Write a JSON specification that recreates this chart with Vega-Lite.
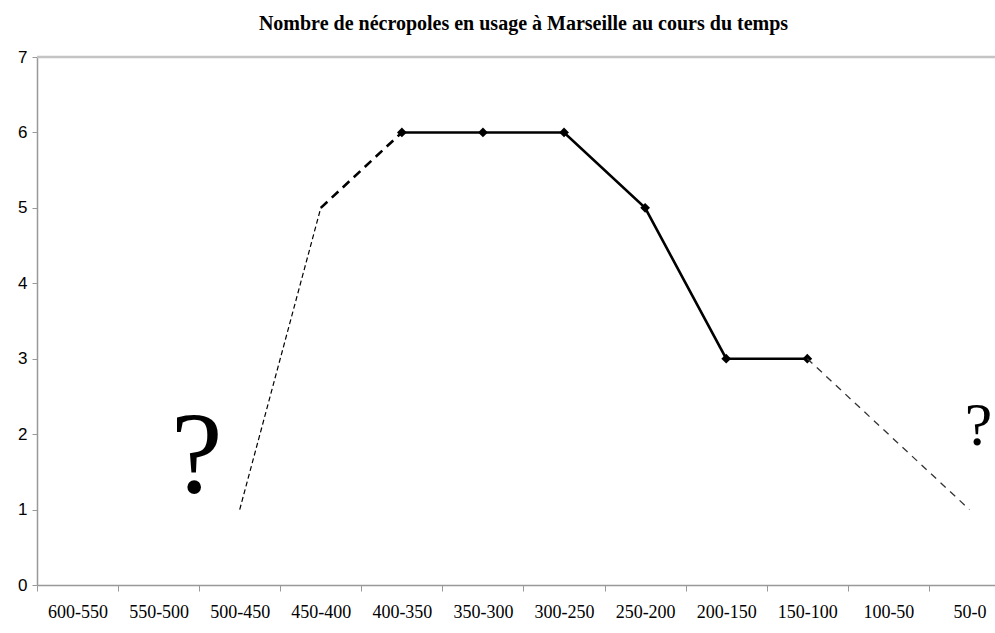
{
  "$schema": "https://vega.github.io/schema/vega-lite/v6.json",
  "width": 973,
  "height": 528,
  "autosize": {"type": "none"},
  "padding": {"left": 37, "top": 57, "right": 0, "bottom": 48},
  "background": "white",
  "config": {"view": {"stroke": null}},
  "title": {
    "text": "Nombre de nécropoles en usage à Marseille au cours du temps",
    "font": "Liberation Serif",
    "fontSize": 20,
    "fontWeight": "bold",
    "color": "#000000",
    "anchor": "middle",
    "offset": 14
  },
  "datasets": {
    "series": [
      {"period": "500-450", "n": 1, "seg": "a"},
      {"period": "450-400", "n": 5, "seg": "a"},
      {"period": "450-400", "n": 5, "seg": "b"},
      {"period": "400-350", "n": 6, "seg": "b"},
      {"period": "400-350", "n": 6, "seg": "c"},
      {"period": "350-300", "n": 6, "seg": "c"},
      {"period": "300-250", "n": 6, "seg": "c"},
      {"period": "250-200", "n": 5, "seg": "c"},
      {"period": "200-150", "n": 3, "seg": "c"},
      {"period": "150-100", "n": 3, "seg": "c"},
      {"period": "150-100", "n": 3, "seg": "d"},
      {"period": "50-0", "n": 1, "seg": "d"}
    ],
    "notes": [
      {"period": "500-450", "n": 1.23, "label": "?", "kind": "big"},
      {"period": "50-0", "n": 1.86, "label": "?", "kind": "small"}
    ]
  },
  "encoding": {
    "x": {
      "field": "period",
      "type": "ordinal",
      "sort": ["600-550", "550-500", "500-450", "450-400", "400-350", "350-300", "300-250", "250-200", "200-150", "150-100", "100-50", "50-0"],
      "scale": {
        "type": "band",
        "domain": ["600-550", "550-500", "500-450", "450-400", "400-350", "350-300", "300-250", "250-200", "200-150", "150-100", "100-50", "50-0"],
        "paddingInner": 0,
        "paddingOuter": 0
      },
      "axis": {
        "title": null,
        "labelAngle": 0,
        "labelFont": "Liberation Serif",
        "labelFontSize": 18,
        "labelColor": "#000000",
        "labelPadding": 12,
        "tickBand": "extent",
        "tickSize": 6,
        "tickColor": "#999999",
        "domainColor": "#999999",
        "domainWidth": 1.5,
        "grid": false
      }
    }
  },
  "layer": [
    {
      "data": {"values": [{"top": 7}]},
      "mark": {"type": "rule", "color": "#c4c4c4", "strokeWidth": 2.5},
      "encoding": {
        "x": null,
        "y": {"field": "top", "type": "quantitative"}
      }
    },
    {
      "data": {"name": "series"},
      "transform": [{"filter": "datum.seg === 'a'"}],
      "mark": {"type": "line", "color": "#000000", "strokeWidth": 1.2, "strokeDash": [5, 3]},
      "encoding": {
        "y": {
          "field": "n",
          "type": "quantitative",
          "scale": {"domain": [0, 7], "nice": false},
          "axis": {
            "title": null,
            "values": [0, 1, 2, 3, 4, 5, 6, 7],
            "format": "d",
            "grid": false,
            "labelFont": "Liberation Sans",
            "labelFontSize": 17,
            "labelColor": "#000000",
            "labelPadding": 5,
            "tickSize": 5,
            "tickColor": "#999999",
            "domainColor": "#999999",
            "domainWidth": 1.5
          }
        }
      }
    },
    {
      "data": {"name": "series"},
      "transform": [{"filter": "datum.seg === 'b'"}],
      "mark": {"type": "line", "color": "#000000", "strokeWidth": 2.6, "strokeDash": [9, 6]},
      "encoding": {"y": {"field": "n", "type": "quantitative"}}
    },
    {
      "data": {"name": "series"},
      "transform": [{"filter": "datum.seg === 'c'"}],
      "mark": {"type": "line", "color": "#000000", "strokeWidth": 2.6, "point": {"shape": "diamond", "size": 95, "filled": true, "color": "#000000"}},
      "encoding": {"y": {"field": "n", "type": "quantitative"}}
    },
    {
      "data": {"name": "series"},
      "transform": [{"filter": "datum.seg === 'd'"}],
      "mark": {"type": "line", "color": "#333333", "strokeWidth": 1.3, "strokeDash": [7, 6]},
      "encoding": {"y": {"field": "n", "type": "quantitative"}}
    },
    {
      "data": {"name": "notes"},
      "transform": [{"filter": "datum.kind === 'big'"}],
      "mark": {"type": "text", "font": "Liberation Serif", "fontSize": 116, "baseline": "alphabetic", "align": "center", "dx": -43, "color": "#000000"},
      "encoding": {"y": {"field": "n", "type": "quantitative"}, "text": {"field": "label"}}
    },
    {
      "data": {"name": "notes"},
      "transform": [{"filter": "datum.kind === 'small'"}],
      "mark": {"type": "text", "font": "Liberation Serif", "fontSize": 62, "baseline": "alphabetic", "align": "center", "dx": 9, "color": "#000000"},
      "encoding": {"y": {"field": "n", "type": "quantitative"}, "text": {"field": "label"}}
    }
  ]
}
